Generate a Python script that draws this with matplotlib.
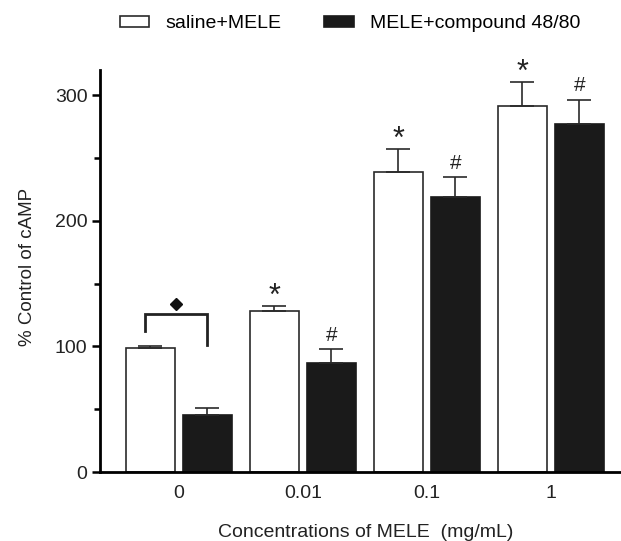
import numpy as np
import matplotlib.pyplot as plt

plt.rcParams['font.family'] = ['Liberation Sans', 'DejaVu Sans']

# 数据
conc = ['0', '0.01', '0.1', '1']
saline_mean = [99, 128.5, 239, 291]
saline_err = [1, 3.5, 18, 19.5]
compound_mean = [45, 87, 219, 277]
compound_err = [6, 11, 16, 19.5]
saline_mark = ['', '*', '*', '*']
compound_mark = ['', '#', '#', '#']

x = np.arange(len(conc))
w = 0.40
off = 0.23

fig = plt.figure(figsize=(6.21, 5.41), dpi=100)
ax = fig.add_axes([0.161, 0.1275, 0.837, 0.743])

ax.bar(x - off, saline_mean, w, color='white', edgecolor='#2a2a2a', linewidth=1.2,
       yerr=[np.zeros(4), saline_err], capsize=8.5,
       error_kw=dict(ecolor='#2a2a2a', elinewidth=1.2, capthick=1.2),
       label='saline+MELE', zorder=2)
ax.bar(x + off, compound_mean, w, color='#1a1a1a', edgecolor='#1a1a1a', linewidth=1.2,
       yerr=[np.zeros(4), compound_err], capsize=8.5,
       error_kw=dict(ecolor='#2a2a2a', elinewidth=1.2, capthick=1.2),
       label='MELE+compound 48/80', zorder=2)

# 显著性标记
for i in range(len(conc)):
    if saline_mark[i]:
        ax.annotate(saline_mark[i], (x[i] - off, saline_mean[i] + saline_err[i]),
                    xytext=(0, -4), textcoords='offset points', ha='center', va='bottom',
                    fontsize=22, color='#222222')
    if compound_mark[i]:
        ax.annotate(compound_mark[i], (x[i] + off, compound_mean[i] + compound_err[i]),
                    xytext=(0, 3), textcoords='offset points', ha='center', va='bottom',
                    fontsize=15, color='#222222')

# 0 组的括号和菱形
ax.plot([-0.27, -0.27, 0.225, 0.225], [112.5, 126, 126, 101], color='#222222',
        linewidth=2, solid_joinstyle='miter', zorder=3)
ax.plot([-0.02], [134], marker='D', markersize=6, color='#111111', linestyle='none')

ax.set_xlim(-0.637, 3.556)
ax.set_ylim(0, 320)
ax.set_xticks(x)
ax.set_xticklabels(conc, fontsize=14, color='#222222')
ax.tick_params(axis='x', length=0, pad=9)
ax.set_yticks([0, 100, 200, 300])
ax.set_yticks([50, 150, 250], minor=True)
ax.tick_params(axis='y', which='major', length=6, width=1.8, labelsize=14, pad=3,
               labelcolor='#222222')
ax.tick_params(axis='y', which='minor', length=4, width=1.8)

ax.spines['top'].set_visible(False)
ax.spines['right'].set_visible(False)
ax.spines['left'].set_linewidth(2)
ax.spines['bottom'].set_linewidth(2)

ax.set_ylabel('% Control of cAMP', fontsize=13.5, color='#222222')
ax.yaxis.set_label_coords(-0.124, 0.51)
ax.set_xlabel('Concentrations of MELE  (mg/mL)', fontsize=14, color='#222222')
ax.xaxis.set_label_coords(0.512, -0.13)

fig.legend(*ax.get_legend_handles_labels(), loc='upper left',
           bbox_to_anchor=(120 / 621, 1 - 15 / 541), ncol=2, frameon=False,
           fontsize=14, handlelength=1.5, handleheight=0.5, columnspacing=2.2,
           handletextpad=0.85, borderpad=0, borderaxespad=0)

plt.savefig('out.png', dpi=100)
